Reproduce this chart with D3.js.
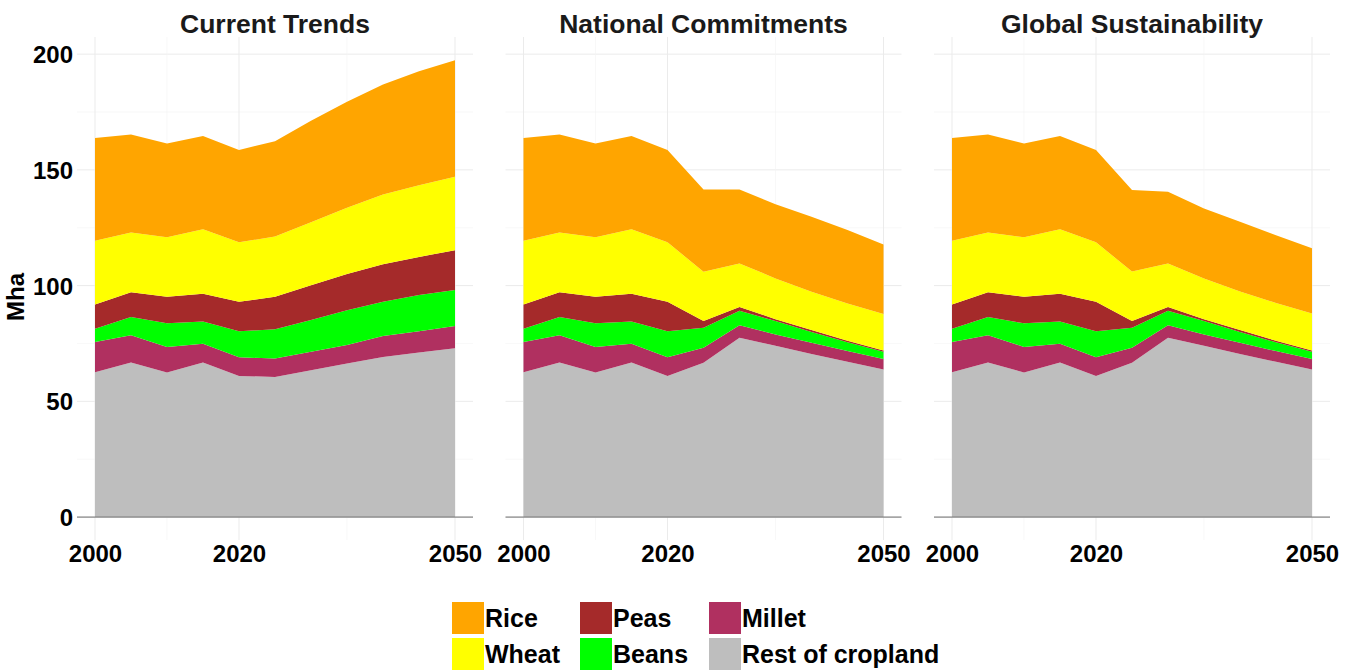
<!DOCTYPE html>
<html>
<head>
<meta charset="utf-8">
<script src="https://cdn.jsdelivr.net/npm/d3@7"></script>
<style>
  html, body { margin: 0; padding: 0; background: #fff; }
  svg { display: block; font-family: "Liberation Sans", Arial, sans-serif; }
</style>
</head>
<body>
<svg id="chart" width="1352" height="672"></svg>
<script>
// Years of the series (historical to 2020, scenario projections after)
const years = [2000, 2005, 2010, 2015, 2020, 2025, 2030, 2035, 2040, 2045, 2050];
const scenarios = ["Current Trends", "National Commitments", "Global Sustainability"];
const crops = ["Rest of cropland", "Millet", "Beans", "Peas", "Wheat", "Rice"];
const cropColors = ["#BEBEBE", "#B03060", "#00FF00", "#A52A2A", "#FFFF00", "#FFA500"];
const xTicks = [2000, 2020, 2050];
const xMinorTicks = [2010, 2035];
const yTicks = [0, 50, 100, 150, 200];
const yMinorTicks = [25, 75, 125, 175];
const legendOrder = ["Rice", "Wheat", "Peas", "Beans", "Millet", "Rest of cropland"];

// Harvested area (Mha) – Current Trends
const restCurrent   = [62.6, 66.8, 62.5, 66.8, 61.0, 60.5, 63.4, 66.4, 69.2, 71.1, 72.9];
const milletCurrent = [13.0, 11.8, 11.0,  8.1,  8.0,  8.0,  8.0,  7.9,  9.0,  9.2,  9.6];
const beansCurrent  = [ 5.8,  7.8, 10.2,  9.6, 11.3, 12.6, 13.7, 15.1, 14.8, 15.6, 15.6];
const peasCurrent   = [10.4, 10.7, 11.5, 12.0, 12.7, 14.1, 15.1, 15.6, 16.2, 16.5, 17.2];
const wheatCurrent  = [27.6, 25.8, 25.7, 27.9, 25.7, 26.0, 27.2, 28.6, 30.2, 31.0, 31.7];
const riceCurrent   = [44.4, 42.4, 40.5, 40.2, 39.9, 41.2, 43.8, 45.8, 47.5, 49.2, 50.4];

// Harvested area (Mha) – National Commitments
const restNational   = [62.6, 66.8, 62.5, 66.8, 61.0, 66.7, 77.5, 74.0, 70.5, 67.1, 63.8];
const milletNational = [13.0, 11.8, 11.0,  8.1,  8.0,  6.4,  5.4,  4.9,  4.8,  4.6,  4.5];
const beansNational  = [ 5.8,  7.8, 10.2,  9.6, 11.3,  8.7,  6.2,  5.8,  4.7,  3.8,  3.1];
const peasNational   = [10.4, 10.7, 11.5, 12.0, 12.7,  2.9,  1.7,  0.8,  0.8,  0.7,  0.6];
const wheatNational  = [27.6, 25.8, 25.7, 27.9, 25.7, 21.3, 18.8, 17.6, 16.5, 16.1, 15.7];
const riceNational   = [44.4, 42.4, 40.5, 40.2, 39.9, 35.5, 31.9, 32.1, 32.4, 31.7, 30.1];

// Harvested area (Mha) – Global Sustainability
const restGlobal   = [62.6, 66.8, 62.5, 66.8, 61.0, 66.7, 77.5, 74.0, 70.5, 67.1, 63.8];
const milletGlobal = [13.0, 11.8, 11.0,  8.1,  8.0,  6.4,  5.4,  4.9,  4.8,  4.6,  4.5];
const beansGlobal  = [ 5.8,  7.8, 10.2,  9.6, 11.3,  8.7,  6.2,  5.8,  4.7,  3.8,  3.1];
const peasGlobal   = [10.4, 10.7, 11.5, 12.0, 12.7,  2.9,  1.7,  0.8,  0.8,  0.7,  0.6];
const wheatGlobal  = [27.6, 25.8, 25.7, 27.9, 25.7, 21.4, 18.8, 17.6, 16.7, 16.3, 16.0];
const riceGlobal   = [44.4, 42.4, 40.5, 40.2, 39.9, 35.2, 30.9, 30.2, 30.1, 29.3, 28.1];

const seriesByScenario = [
  [restCurrent, milletCurrent, beansCurrent, peasCurrent, wheatCurrent, riceCurrent],
  [restNational, milletNational, beansNational, peasNational, wheatNational, riceNational],
  [restGlobal, milletGlobal, beansGlobal, peasGlobal, wheatGlobal, riceGlobal]
];

const svg = d3.select("#chart");
const color = d3.scaleOrdinal().domain(crops).range(cropColors);

const panelLefts = [77, 505.5, 934];
const panelWidth = 396;
const panelTop = 37, panelBottom = 540;

const y = d3.scaleLinear().domain([-9.9, 207.4]).range([panelBottom, panelTop]);

const stack = d3.stack().keys(crops);

scenarios.forEach((name, i) => {
  const left = panelLefts[i];
  const x = d3.scaleLinear().domain([1997.5, 2052.5]).range([left, left + panelWidth]);
  const g = svg.append("g");

  // rows for the stack layout
  const rows = years.map((yr, k) => {
    const r = { year: yr };
    crops.forEach((c, j) => { r[c] = seriesByScenario[i][j][k]; });
    return r;
  });

  // grid
  const grid = g.append("g");
  grid.selectAll(".hminor").data(yMinorTicks).join("line")
    .attr("x1", left).attr("x2", left + panelWidth)
    .attr("y1", d => y(d)).attr("y2", d => y(d))
    .attr("stroke", "#f3f3f3").attr("stroke-width", 0.6);
  grid.selectAll(".hmajor").data(yTicks).join("line")
    .attr("x1", left).attr("x2", left + panelWidth)
    .attr("y1", d => y(d)).attr("y2", d => y(d))
    .attr("stroke", "#ebebeb").attr("stroke-width", 1);
  grid.selectAll(".vminor").data(xMinorTicks).join("line")
    .attr("x1", d => x(d)).attr("x2", d => x(d))
    .attr("y1", panelTop).attr("y2", panelBottom)
    .attr("stroke", "#f3f3f3").attr("stroke-width", 0.6);
  grid.selectAll(".vmajor").data(xTicks).join("line")
    .attr("x1", d => x(d)).attr("x2", d => x(d))
    .attr("y1", panelTop).attr("y2", panelBottom)
    .attr("stroke", "#ebebeb").attr("stroke-width", 1);

  // stacked areas
  const area = d3.area()
    .x(d => x(d.data.year))
    .y0(d => y(d[0]))
    .y1(d => y(d[1]));
  g.append("g").selectAll("path").data(stack(rows)).join("path")
    .attr("d", area)
    .attr("fill", d => color(d.key));

  // zero line
  g.append("line")
    .attr("x1", left).attr("x2", left + panelWidth)
    .attr("y1", y(0)).attr("y2", y(0))
    .attr("stroke", "#6e6e6e").attr("stroke-width", 1);

  // panel title
  g.append("text")
    .attr("x", left + panelWidth / 2).attr("y", 33)
    .attr("text-anchor", "middle")
    .attr("font-size", 26.5).attr("font-weight", "bold").attr("fill", "#1a1a1a")
    .text(name);

  // x tick labels
  const xAxis = d3.axisBottom(x).tickValues(xTicks).tickFormat(d3.format("d")).tickSize(0).tickPadding(0);
  const xa = g.append("g").attr("transform", `translate(0, 562)`).call(xAxis);
  xa.select(".domain").remove();
  xa.selectAll("text").attr("dy", 0).attr("y", 0)
    .attr("font-size", 24).attr("font-weight", "bold").attr("fill", "#000")
    .attr("font-family", "Liberation Sans, Arial, sans-serif");

  // y tick labels on the first panel only
  if (i === 0) {
    const yAxis = d3.axisLeft(y).tickValues(yTicks).tickSize(0).tickPadding(0);
    const ya = g.append("g").attr("transform", `translate(${left - 4}, 0)`).call(yAxis);
    ya.select(".domain").remove();
    ya.selectAll("text").attr("x", 0).attr("dy", "0.36em")
      .attr("font-size", 24).attr("font-weight", "bold").attr("fill", "#000")
      .attr("font-family", "Liberation Sans, Arial, sans-serif");
  }
});

// y-axis title
svg.append("text")
  .attr("transform", "translate(24, 297) rotate(-90)")
  .attr("text-anchor", "middle")
  .attr("font-size", 24).attr("font-weight", "bold").attr("fill", "#000")
  .text("Mha");

// legend: two rows, filled column by column
const legend = svg.append("g");
const colX = [452, 580, 709];
const rowY = [602, 638];
legendOrder.forEach((c, k) => {
  const col = Math.floor(k / 2), row = k % 2;
  const gx = colX[col], gy = rowY[row];
  legend.append("rect")
    .attr("x", gx).attr("y", gy).attr("width", 32).attr("height", 32)
    .attr("fill", color(c));
  legend.append("text")
    .attr("x", gx + 33).attr("y", gy + 25)
    .attr("font-size", 25).attr("font-weight", "bold").attr("fill", "#000")
    .text(c);
});
</script>
</body>
</html>
